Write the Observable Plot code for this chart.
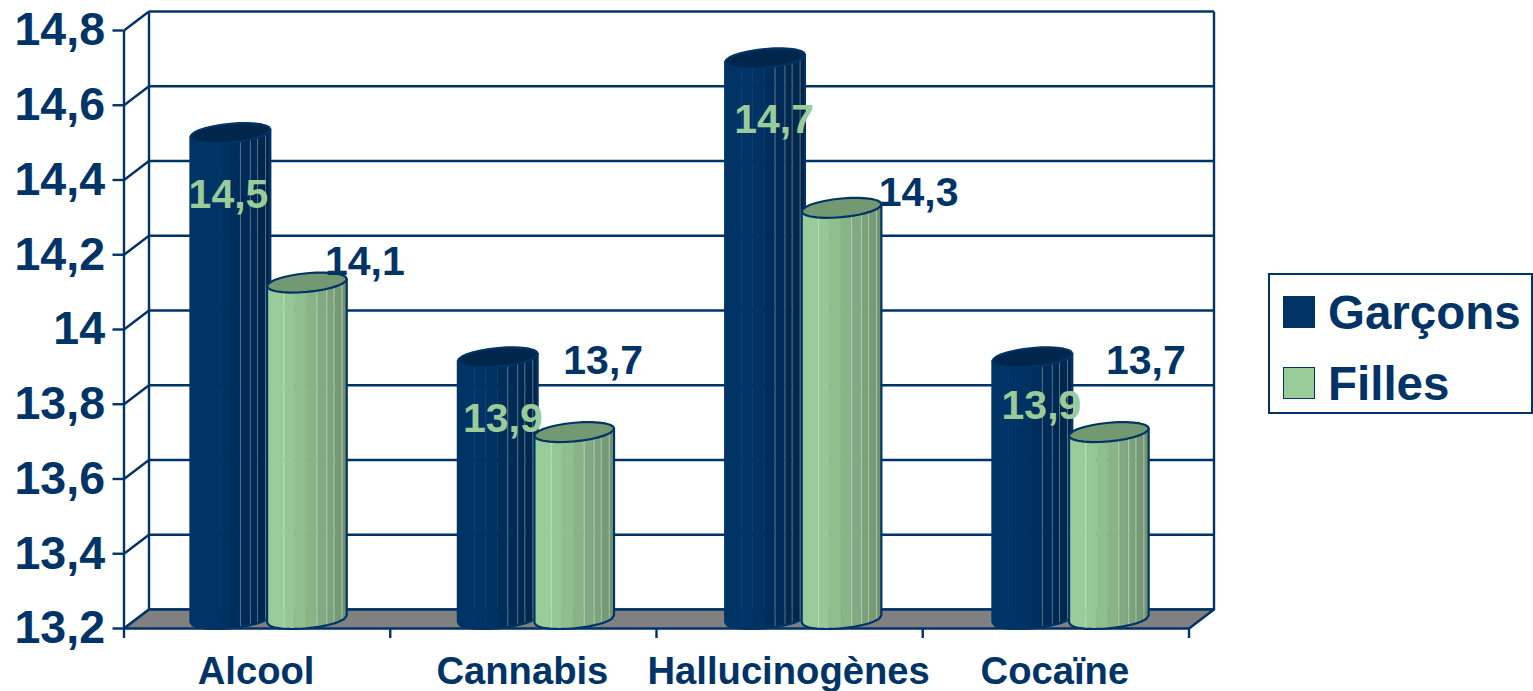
<!DOCTYPE html>
<html lang="fr">
<head>
<meta charset="utf-8">
<script src="https://cdn.jsdelivr.net/npm/d3@7"></script>
<script src="https://cdn.jsdelivr.net/npm/@observablehq/plot@0.6"></script>
<style>
  html, body { margin: 0; padding: 0; background: #fff; overflow: hidden; }
  #wrap { position: relative; width: 1533px; height: 691px; font-family: "Liberation Sans", Arial, sans-serif; }
  #legend { position: absolute; left: 1268px; top: 273px; width: 261px; height: 137px; border: 2.5px solid #003366; background: #fff; }
  .entry { position: absolute; left: 13px; height: 40px; display: flex; align-items: center; color: #003366; font-weight: 700; font-size: 47.5px; white-space: nowrap; }
  .swatch { width: 30px; height: 30px; border: 1px solid #003366; margin-right: 13px; flex: none; }
</style>
</head>
<body>
<div id="wrap"><div id="legend"></div></div>
<script>
// ---- data ----
const categories = ["Alcool", "Cannabis", "Hallucinogènes", "Cocaïne"];
const seriesNames = ["Garçons", "Filles"];
const garcons = [14.5, 13.9, 14.7, 13.9];
const filles = [14.1, 13.7, 14.3, 13.7];
const yTicks = [13.2, 13.4, 13.6, 13.8, 14, 14.2, 14.4, 14.6, 14.8];

// ---- style and 3D geometry (in scale units) ----
const navy = "#003366", green = "#99cc99";
const depthX = 0.0939, depthY = 0.051;      // oblique depth of the chart box
const radius = 0.1495, rise = 0.0268, twist = 0.367; // tilted ellipse of a cylinder
const slots = [0.4, 0.687], groupStep = 1.004;
const shadeStops = [0, 0.21, 0.35, 0.5, 0.625, 0.75, 0.84, 0.94, 1];
const shades = [
  ["#003366", "#003366", "#003263", "#002e5c", "#002b56", "#002950", "#00274c", "#00254a"],
  ["#99cc99", "#96c896", "#8fbe8f", "#88b488", "#82aa82", "#7ca27c", "#769a76", "#719371"]
];
const capFill = ["#00264c", "#739973"];
const seams = [[0.625, 0.75, 0.84, 0.94], [0.21, 0.625, 0.75, 0.84, 0.94]];
const seamColor = ["#a0b8d0", "#e8f6e8"];
const labelNudge = {
  "0-0": [-2, 52], "0-1": [5, 52], "0-2": [9, 52], "0-3": [9, 39],
  "1-0": [58, -30], "1-1": [29, -81], "1-2": [77, -25], "1-3": [37, -81]
};

const fmt = d => String(d).replace(".", ",");
const series = [garcons, filles];
const yTop = yTicks[yTicks.length - 1], yBottom = yTicks[0];

// lower rim of the tilted ellipse at a position s in [-1, 1] across the cylinder
const lowRim = s => rise * Math.sin(twist - Math.acos(s));
const ring = d3.range(28).map(k => 2 * Math.PI * k / 28);
const arc = d3.range(41).map(n => -1 + n / 20);

const bars = [];
categories.forEach((c, i) => series.forEach((vals, j) => {
  bars.push({i, j, v: vals[i], cx: i * groupStep + slots[j], cy: vals[i] + depthY / 2, by: yBottom + depthY / 2});
}));

const barMarks = bars.flatMap(b => {
  const strips = shades[b.j].flatMap((color, k) => {
    const a = shadeStops[k], z = shadeStops[k + 1];
    return d3.range(5).map(n => {
      const s = -1 + 2 * (a + (z - a) * n / 4);
      return {k, color, x: b.cx + radius * s, y1: b.by + lowRim(s), y2: b.cy + lowRim(s)};
    });
  });
  const outline = [
    {x: b.cx - radius, y: b.cy + lowRim(-1)},
    ...arc.map(s => ({x: b.cx + radius * s, y: b.by + lowRim(s)})),
    {x: b.cx + radius, y: b.cy + lowRim(1)}
  ];
  const cap = ring.map(t => ({x: b.cx + radius * Math.cos(t), y: b.cy + rise * Math.sin(t + twist)}));
  return [
    Plot.area(strips, {x1: "x", y1: "y1", y2: "y2", z: "k", fill: d => d.color, stroke: d => d.color, strokeWidth: 0.6}),
    Plot.ruleX(seams[b.j].map(f => -1 + 2 * f), {
      x: s => b.cx + radius * s, y1: s => b.by + lowRim(s), y2: s => b.cy + lowRim(s),
      stroke: seamColor[b.j], strokeWidth: 1, strokeOpacity: 0.5
    }),
    Plot.line(outline, {x: "x", y: "y", stroke: navy, strokeWidth: 2.2, curve: "linear"}),
    Plot.line(cap, {x: "x", y: "y", fill: capFill[b.j], stroke: navy, strokeWidth: 2.2, curve: "linear-closed"})
  ];
});

const labelMarks = bars.map(b => {
  const [dx, dy] = labelNudge[`${b.j}-${b.i}`];
  return Plot.text([b], {
    x: "cx", y: "v", text: d => fmt(d.v), dx, dy,
    fontSize: 41, fontWeight: 700, fill: b.j === 0 ? green : navy
  });
});

const floor = [
  {x: 0, y: yBottom}, {x: depthX, y: yBottom + depthY},
  {x: 4 + depthX, y: yBottom + depthY}, {x: 4, y: yBottom}
];
const lineW = 2.4;

const chart = Plot.plot({
  width: 1533, height: 691,
  marginLeft: 123.5, marginRight: 344.5, marginTop: 30, marginBottom: 63,
  style: {fontFamily: '"Liberation Sans", Arial, sans-serif', background: "#fff", overflow: "visible"},
  color: {type: "identity"},
  x: {domain: [0, 4]},
  y: {domain: [yBottom, yTop]},
  marks: [
    // walls and floor
    Plot.link(yTicks, {x1: () => depthX, x2: () => 4 + depthX, y1: d => d + depthY, y2: d => d + depthY, stroke: navy, strokeWidth: lineW}),
    Plot.link(yTicks, {x1: () => 0, x2: () => depthX, y1: d => d, y2: d => d + depthY, stroke: navy, strokeWidth: lineW}),
    Plot.link([depthX, 4 + depthX], {x1: d => d, x2: d => d, y1: () => yBottom + depthY, y2: () => yTop + depthY, stroke: navy, strokeWidth: lineW}),
    Plot.line(floor, {x: "x", y: "y", fill: "#808080", stroke: navy, strokeWidth: lineW, curve: "linear-closed"}),
    Plot.link([0], {x1: () => 0, x2: () => 0, y1: () => yBottom, y2: () => yTop, stroke: navy, strokeWidth: lineW}),
    // axes
    Plot.axisY(yTicks, {
      tickFormat: fmt, tickSize: 11, tickPadding: 8, label: null,
      fontSize: 46.5, fontWeight: 700, color: navy, strokeWidth: lineW
    }),
    Plot.axisX([0, 1, 2, 3, 4], {
      tickFormat: () => "", tickSize: 10, label: null, color: navy, strokeWidth: lineW
    }),
    Plot.axisX(categories.map((_, i) => i + 0.5), {
      tickFormat: d => categories[Math.floor(d)], tickSize: 0, tickPadding: 28, label: null, dx: -1,
      fontSize: 38.2, fontWeight: 700, color: navy
    }),
    ...barMarks,
    ...labelMarks
  ]
});
const wrap = document.getElementById("wrap");
wrap.insertBefore(chart, wrap.firstChild);

// legend
const legend = document.getElementById("legend");
seriesNames.forEach((name, k) => {
  const e = document.createElement("div");
  e.className = "entry";
  e.style.top = (k === 0 ? 17 : 88) + "px";
  const s = document.createElement("span");
  s.className = "swatch";
  s.style.background = k === 0 ? navy : green;
  e.appendChild(s);
  e.appendChild(document.createTextNode(name));
  legend.appendChild(e);
});
</script>
</body>
</html>
